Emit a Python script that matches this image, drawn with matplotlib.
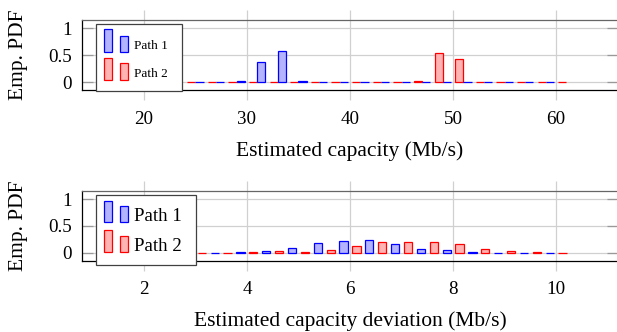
import matplotlib
matplotlib.use('Agg')
import matplotlib.pyplot as plt
import matplotlib.transforms as mtransforms
from matplotlib.patches import Rectangle

# top panel: estimated capacity histogram (bins of 2 Mb/s)
cap_bins = [25, 27, 29, 31, 33, 35, 37, 39, 41, 43, 45, 47, 49, 51, 53, 55, 57, 59, 61]
cap_path1 = [0, 0, 0.02, 0.38, 0.58, 0.02, 0.01, 0, 0, 0, 0, 0, 0, 0, 0, 0, 0, 0, None]
cap_path2 = [0, 0, 0, 0, 0, 0, 0, 0, 0, 0, 0, 0.02, 0.54, 0.44, 0, 0, 0, 0, 0]

# bottom panel: estimated capacity deviation histogram
dev_path1_x = [3.375, 3.875, 4.375, 4.875, 5.375, 5.875, 6.375, 6.875, 7.375, 7.875, 8.375, 8.875, 9.375, 9.875]
dev_path1 = [0, 0.015, 0.04, 0.085, 0.185, 0.215, 0.235, 0.165, 0.065, 0.045, 0.012, 0, 0, 0]
dev_path2_x = [3.125, 3.625, 4.125, 4.625, 5.125, 5.625, 6.125, 6.625, 7.125, 7.625, 8.125, 8.625, 9.125, 9.625, 10.125]
dev_path2 = [0, 0, 0.008, 0.025, 0.018, 0.045, 0.13, 0.195, 0.195, 0.195, 0.155, 0.075, 0.035, 0.008, 0]

labels = ['Path 1', 'Path 2']
yticks = [0, 0.5, 1]
yticklabels = ['0', '0.5', '1']

plt.rcParams['font.family'] = ['Liberation Serif', 'DejaVu Serif']

BLUE = '#0000ff'
RED = '#ff0000'
BLUE_FILL = '#b3b3ff'
RED_FILL = '#ffb3b3'
GRID = '#d0d0d0'


def style_axes(ax, xlim, ylim, xticks):
    ax.set_xlim(*xlim)
    ax.set_ylim(*ylim)
    ax.set_xticks(xticks)
    ax.set_yticks(yticks)
    ax.set_yticklabels(yticklabels)
    ax.set_axisbelow(True)
    ax.grid(True, color=GRID, lw=0.9)
    ax.tick_params(axis='x', direction='out', length=7.2, width=0.9, color=GRID,
                   top=True, bottom=True, pad=7.5, labelsize=13.7)
    ax.tick_params(axis='y', direction='in', length=8, width=0.9, color='#999999',
                   left=True, right=True, pad=7.2, labelsize=13.7)
    ax.spines['top'].set_color('#666666')
    for s in ax.spines.values():
        s.set_linewidth(0.9)
    ax.set_ylabel('Emp. PDF', fontsize=15.5)
    ax.yaxis.set_label_coords(-0.1, 0.5)


def bar_legend(ax, anchor, box, rows, fontsize):
    # pgfplots style ybar legend: tall + short bar per entry; sizes in px (dpi 100)
    tr = fig.dpi_scale_trans + mtransforms.ScaledTranslation(anchor[0], anchor[1], ax.transAxes)
    bw, bh = box
    ax.add_artist(Rectangle((0, -bh / 100), bw / 100, bh / 100, transform=tr, fc='white',
                            ec='#404040', lw=0.9, zorder=5, clip_on=False))
    for (label, fc, ec), (base, tall, short, text_base) in zip(labels_styles, rows):
        for x0, h in ((8.5, tall), (24.5, short)):
            ax.add_artist(Rectangle((x0 / 100, -base / 100), 8.2 / 100, h / 100, transform=tr,
                                    fc=fc, ec=ec, lw=0.9, zorder=6, clip_on=False))
        ax.text(38.5 / 100, -text_base / 100, label, transform=tr, fontsize=fontsize,
                ha='left', va='baseline', zorder=7)


labels_styles = [(labels[0], BLUE_FILL, BLUE), (labels[1], RED_FILL, RED)]

fig = plt.figure(figsize=(6.17, 3.32), dpi=100)
W, H = 617.0, 332.0
ax1 = fig.add_axes([82 / W, (H - 90.5) / H, 536 / W, 70.5 / H])
ax2 = fig.add_axes([82 / W, (H - 260.7) / H, 536 / W, 70 / H])

# top
p1x = [c + 0.4 for c, v in zip(cap_bins, cap_path1) if v is not None]
p1y = [v for v in cap_path1 if v is not None]
p2x = [c - 0.4 for c in cap_bins]
ax1.bar(p2x, cap_path2, width=0.8, color=RED_FILL, edgecolor=RED, lw=0.9)
ax1.bar(p1x, p1y, width=0.8, color=BLUE_FILL, edgecolor=BLUE, lw=0.9)
style_axes(ax1, (14, 66), (-0.15, 1.15), [20, 30, 40, 50, 60])
ax1.set_xlabel('Estimated capacity (Mb/s)', fontsize=15.5)
ax1.xaxis.set_label_coords(0.5, -0.716)

# bottom
ax2.bar(dev_path2_x, dev_path2, width=0.16, color=RED_FILL, edgecolor=RED, lw=0.9)
ax2.bar(dev_path1_x, dev_path1, width=0.16, color=BLUE_FILL, edgecolor=BLUE, lw=0.9)
style_axes(ax2, (0.8, 11.2), (-0.15, 1.16), [2, 4, 6, 8, 10])
ax2.set_xlabel('Estimated capacity deviation (Mb/s)', fontsize=15.5)
ax2.xaxis.set_label_coords(0.5, -0.726)

# legends: (bar base, tall height, short height, text baseline) per row, px from box top
bar_legend(ax1, (13.7 / 536, (90.5 - 24) / 70.5), (86.6, 67),
           [(27.5, 22.5, 16, 25.3), (55.5, 22, 16.5, 53.3)], 9.6)
bar_legend(ax2, (13.7 / 536, (260.7 - 194.7) / 70), (100.3, 70.6),
           [(27.6, 21.6, 16.6, 26.0), (57, 21.7, 16, 56.0)], 13.6)

fig.savefig('out.png', dpi=100)
